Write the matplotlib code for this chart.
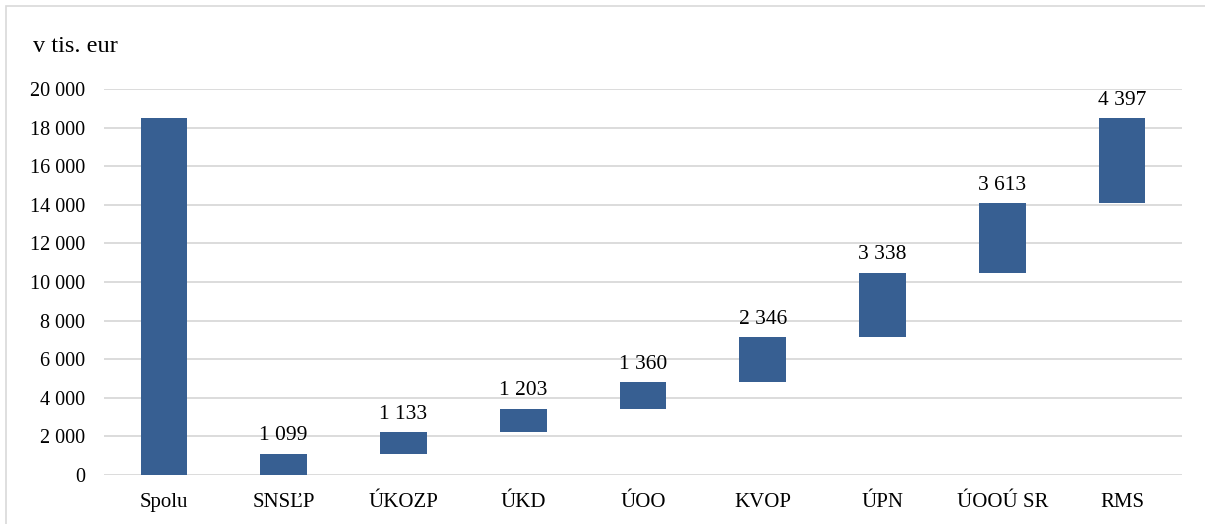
import matplotlib
matplotlib.use("Agg")
import matplotlib.pyplot as plt
import numpy as np
from matplotlib.patches import Rectangle

categories = ["Spolu", "SNSĽP", "ÚKOZP", "ÚKD", "ÚOO", "KVOP", "ÚPN", "ÚOOÚ SR", "RMS"]
total = 18489
steps = [1099, 1133, 1203, 1360, 2346, 3338, 3613, 4397]
yticks = list(range(0, 20001, 2000))
unit_label = "v tis. eur"

plt.rcParams['font.family'] = ['Liberation Serif', 'DejaVu Serif']
color = '#375F92'

fig = plt.figure(figsize=(12.05, 5.24), dpi=100)
ax = fig.add_axes([104/1205, 1-475/524, (1182-104)/1205, (475-89)/524])

# frame
fig.patches.append(Rectangle((6/1205, -0.01), 1.2, 1-6/524+0.01, transform=fig.transFigure,
                             fill=False, edgecolor='#d9d9d9', linewidth=1.2))

x = np.arange(len(categories))
heights = [total] + steps
bottoms = [0] + list(np.concatenate([[0], np.cumsum(steps)[:-1]]))
ax.bar(x, heights, bottom=bottoms, width=0.39, color=color, zorder=3)

for i in range(1, len(categories)):
    top = bottoms[i] + heights[i]
    ax.annotate(f"{heights[i]:,}".replace(",", " "), (x[i], top), xytext=(0, 6),
                textcoords='offset points', ha='center', va='bottom', fontsize=15.5)

ax.set_xlim(-0.5, len(categories) - 0.5)
ax.set_ylim(0, 20000)
ax.set_yticks(yticks)
ax.set_yticklabels([f"{v:,}".replace(",", " ") for v in yticks], fontsize=14.5)
ax.set_xticks(x)
ax.set_xticklabels(categories, fontsize=15)
ax.tick_params(axis='both', length=0)
ax.tick_params(axis='y', pad=13.5)
ax.tick_params(axis='x', pad=13)
ax.grid(axis='y', color='#d9d9d9', linewidth=1.3, zorder=0)
ax.set_axisbelow(True)
for s in ax.spines.values():
    s.set_visible(False)

fig.text(33/1205, 1-46/524, unit_label, fontsize=17.5, ha='left', va='center')

fig.savefig("out.png", dpi=100)
